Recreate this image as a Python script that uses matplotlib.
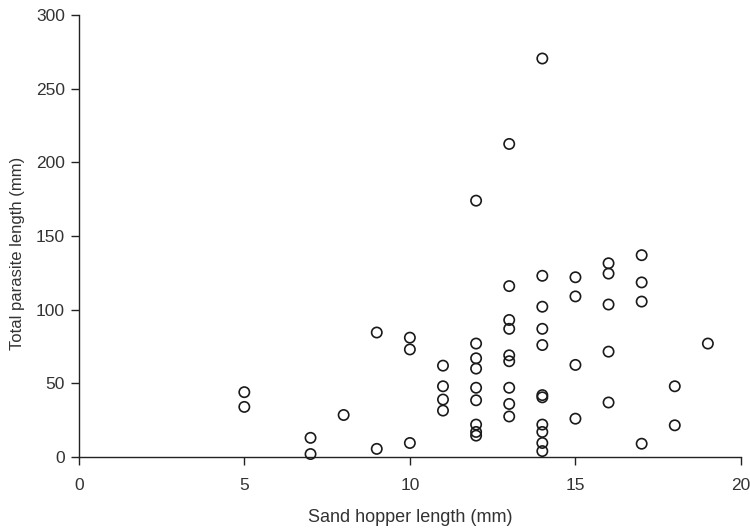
import numpy as np
import matplotlib.pyplot as plt

plt.rcParams['font.family'] = ['Liberation Sans', 'DejaVu Sans']

# sand hopper length (mm) and total parasite length (mm)
hopper = [5, 5,
          7, 7,
          8,
          9, 9,
          10, 10, 10,
          11, 11, 11, 11,
          12, 12, 12, 12, 12, 12, 12, 12, 12,
          13, 13, 13, 13, 13, 13, 13, 13, 13,
          14, 14, 14, 14, 14, 14, 14, 14, 14, 14, 14,
          15, 15, 15, 15,
          16, 16, 16, 16, 16,
          17, 17, 17, 17,
          18, 18,
          19]
parasite = [44, 34,
            13, 2,
            28.5,
            84.5, 5.5,
            81, 73, 9.5,
            62, 48, 39, 31.5,
            174, 77, 67, 60, 47, 38.5, 22, 17, 14.5,
            212.5, 116, 93, 87, 69, 65, 47, 36, 27.5,
            270.5, 123, 102, 87, 76, 42, 40.5, 22, 17, 9.5, 4,
            122, 109, 62.5, 26,
            131.5, 124.5, 103.5, 71.5, 37,
            137, 118.5, 105.5, 9,
            48, 21.5,
            77]

fig = plt.figure(figsize=(7.5, 5.28), dpi=100)
ax = fig.add_axes([0.105, 0.1345, 0.883, 0.837])

ax.scatter(hopper, parasite, s=55, facecolors='none', edgecolors='#1a1a1a',
           linewidths=1.2, clip_on=False, zorder=3)

ax.set_xlim(0, 20)
ax.set_ylim(0, 300)
ax.set_xticks(np.arange(0, 21, 5))
ax.set_yticks(np.arange(0, 301, 50))

for s in ['top', 'right']:
    ax.spines[s].set_visible(False)
for s in ['left', 'bottom']:
    ax.spines[s].set_color('#222222')
    ax.spines[s].set_linewidth(1.0)

ax.tick_params(direction='out', length=6, width=1, color='#222222',
               labelsize=12.5, labelcolor='#333333')
ax.tick_params(axis='x', pad=9)
ax.tick_params(axis='y', pad=4)

ax.set_xlabel('Sand hopper length (mm)', fontsize=13, color='#333333', va='center')
ax.set_ylabel('Total parasite length (mm)', fontsize=12, color='#333333', va='center')
ax.xaxis.set_label_coords(0.5, -0.138)
ax.yaxis.set_label_coords(-0.092, 0.46)

fig.savefig('out.png', dpi=100)
